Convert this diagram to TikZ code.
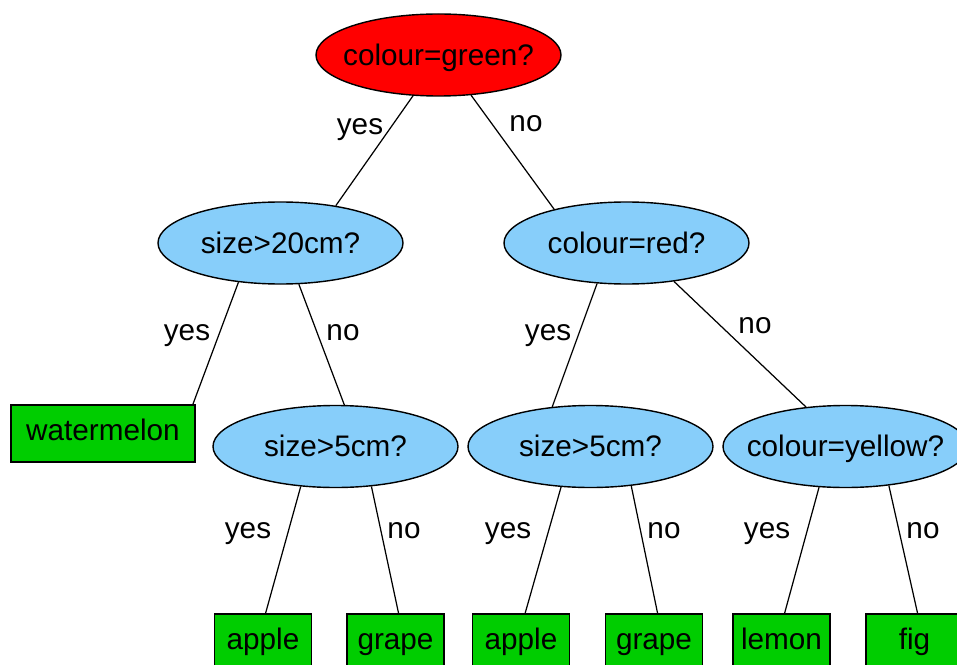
\documentclass[tikz,border=0pt]{standalone}
\usepackage{fontspec}
\setmainfont{Liberation Sans}
\usetikzlibrary{shapes.geometric}

\definecolor{skyblue}{HTML}{87CEFA}
\definecolor{leafgreen}{HTML}{00CD00}

\begin{document}
\begin{tikzpicture}[x=0.2mm,y=-0.2mm,font=\fontsize{16.9pt}{20pt}\selectfont]

\tikzset{
test/.style={ellipse,draw=black,fill=skyblue,line width=0.8pt,minimum width=49mm,minimum height=16.4mm,inner xsep=-3mm,inner ysep=0pt,text height=11.8pt,text depth=0pt},
fruit/.style={rectangle,draw=black,fill=leafgreen,line width=0.8pt,minimum width=19.4mm,minimum height=11.4mm,inner sep=0pt,text height=11.8pt,text depth=3.9pt},
branch/.style={line width=0.7pt},
answer/.style={anchor=base,inner sep=0pt}
}

\useasboundingbox (0,0) rectangle (957,665);
\clip (0,0) rectangle (957,665);

% Questions
\node[test,fill=red] (q1) at (438.5,55) {colour=green?};
\node[test] (q2) at (280.5,243) {size>20cm?};
\node[test] (q3) at (626.5,243) {colour=red?};
\node[test] (q4) at (335.5,446.5) {size>5cm?};
\node[test] (q5) at (590.5,446.5) {size>5cm?};
\node[test] (q6) at (845.5,446.5) {colour=yellow?};

% Fruits
\node[fruit,minimum width=36.8mm] (melon) at (103,433.5) {watermelon};
\node[fruit] (apple1) at (263,642.5) {apple};
\node[fruit] (grape1) at (395.5,642.5) {grape};
\node[fruit] (apple2) at (521,642.5) {apple};
\node[fruit] (grape2) at (654,642.5) {grape};
\node[fruit] (lemon) at (781.5,642.5) {lemon};
\node[fruit] (fig) at (914.5,642.5) {fig};

% Branches
\draw[branch] (q1.238) -- (q2.34);
\draw[branch] (q1.309) -- (q3.155);
\draw[branch] (q2.223) -- (melon.18);
\draw[branch] (q2.294) -- (q4.78);
\draw[branch] (q3.234) -- (q5.134);
\draw[branch] (q3.321) -- (q6.135);
\draw[branch] (q4.229) -- (apple1.85);
\draw[branch] (q4.312) -- (grape1.84);
\draw[branch] (q5.234) -- (apple2.82);
\draw[branch] (q5.316) -- (grape2.83);
\draw[branch] (q6.237) -- (lemon.84);
\draw[branch] (q6.318) -- (fig.84);

% Answers
\node[answer] (y1) at (360,135) {yes};
\node[answer] (n1) at (526,132) {no};
\node[answer] (y2) at (187,340) {yes};
\node[answer] (n2) at (343,340) {no};
\node[answer] (y3) at (548,340) {yes};
\node[answer] (n3) at (755,333) {no};
\node[answer] (y4) at (248,538) {yes};
\node[answer] (n4) at (404,538) {no};
\node[answer] (y5) at (508,538) {yes};
\node[answer] (n5) at (664,538) {no};
\node[answer] (y6) at (767,538) {yes};
\node[answer] (n6) at (923,538) {no};

\end{tikzpicture}
\end{document}
